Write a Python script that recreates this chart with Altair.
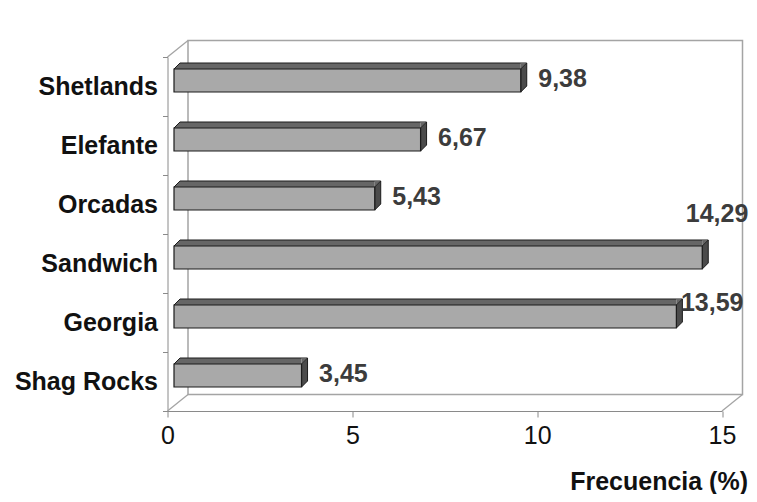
import altair as alt
import pandas as pd

# ---- data ----
categories = ["Shetlands", "Elefante", "Orcadas", "Sandwich", "Georgia", "Shag Rocks"]
values = [9.38, 6.67, 5.43, 14.29, 13.59, 3.45]
x_ticks = [0, 5, 10, 15]
x_title = "Frecuencia (%)"

df = pd.DataFrame({"isla": categories, "frecuencia": values})
df["inicio"] = 0.0
df["etiqueta"] = [f"{v:.2f}".replace(".", ",") for v in values]

# ---- geometry / style ----
W, H = 554.5, 354
DX, DY = 20.5, -16.5          # depth of the 3-D box
FRONT = "#a9a9a9"
TOP = "#666666"
SIDE = "#4b4b4b"
EDGE = "#1c1c1c"
WALL = "#a4a4a4"
AXIS = "#8a8a8a"
FONT = "Liberation Sans"
FS = 25

xs = alt.Scale(domain=[0, 15], nice=False, zero=True)
ys = alt.Scale(domain=categories, paddingInner=0, paddingOuter=0)

x_axis = alt.Axis(values=x_ticks, grid=False, tickSize=6, tickColor=AXIS, domainColor=AXIS,
                  labelFlush=False,
                  labelFont=FONT, labelFontSize=FS, labelColor="#111111", labelPadding=6,
                  titleFont=FONT, titleFontSize=FS, titleFontWeight="bold", titleColor="#111111",
                  titleAnchor="end", titleAlign="right", titleBaseline="alphabetic",
                  titleX=580, titleY=78)
y_axis = alt.Axis(title=None, tickBand="extent", tickSize=5, tickColor=AXIS, domainColor=AXIS,
                  labelFont=FONT, labelFontSize=FS, labelFontWeight="bold", labelColor="#111111",
                  labelPadding=5)

Y = alt.Y("isla:N", scale=ys, sort=categories, axis=y_axis)
X0 = alt.X("inicio:Q", scale=xs, axis=x_axis, title=x_title)
XV = alt.X("frecuencia:Q", scale=xs, axis=x_axis, title=x_title)
X2V = alt.X2("frecuencia:Q")

one = alt.Data(values=[{"k": 0}])

# back wall and floor edges
wall = alt.Chart(one).mark_rect(fill="white", fillOpacity=0, stroke=WALL, strokeWidth=1.5,
                                xOffset=DX, x2Offset=DX, yOffset=DY, y2Offset=DY).encode(
    x=alt.XDatum(0, scale=xs, axis=x_axis, title=x_title), x2=alt.X2Datum(15),
    y=alt.value(0), y2=alt.value(H))

def diag(xv, yv):
    return alt.Chart(one).mark_rule(color=WALL, strokeWidth=1.3, x2Offset=DX, y2Offset=DY).encode(
        x=alt.XDatum(xv, scale=xs, axis=x_axis, title=x_title), x2=alt.X2Datum(xv),
        y=alt.value(yv), y2=alt.value(yv))

base = alt.Chart(df)

# top face (middle strip)
top_strip = base.mark_bar(size=6, yOffset=-20.5, xOffset=12.5, x2Offset=6.5, color=TOP).encode(
    x=X0, x2=X2V, y=Y)
# top face left triangle
top_left = base.mark_point(shape="M6.5,-17.5L12.5,-17.5L12.5,-23.5Z", size=4, filled=True,
                           fill=TOP, strokeWidth=0, opacity=1).encode(x=X0, y=Y)
# top face back edge
back_edge = base.mark_bar(size=1.2, yOffset=-23.5, xOffset=12.5, x2Offset=12.5, color=EDGE).encode(
    x=X0, x2=X2V, y=Y)
# top face left slanted edge
left_edge = base.mark_point(shape="M6.5,-17.5L12.5,-23.5", size=4, filled=False,
                            stroke=EDGE, strokeWidth=1, opacity=1).encode(x=X0, y=Y)
# top face right triangle
top_right = base.mark_point(shape="M6.5,-17.5L6.5,-23.5L12.5,-23.5Z", size=4, filled=True,
                            fill=TOP, strokeWidth=0, opacity=1).encode(x=XV, y=Y)
# side (end) face
side = base.mark_point(shape="M6.5,-17.5L12.5,-23.5L12.5,-0.5L6.5,5.5Z", size=4, filled=True,
                       fill=SIDE, stroke=EDGE, strokeWidth=1, opacity=1).encode(x=XV, y=Y)
# front face
front = base.mark_bar(size=23, yOffset=-6, xOffset=6.5, x2Offset=6.5, fill=FRONT,
                      stroke=EDGE, strokeWidth=1.2).encode(x=X0, x2=X2V, y=Y)

def labels(filt, dx, dy):
    return base.transform_filter(filt).mark_text(
        align="left", baseline="middle", dx=dx, dy=dy, font=FONT, fontSize=FS,
        fontWeight="bold", color="#3c3c3c").encode(x=XV, y=Y, text="etiqueta:N")

lab_main = labels(alt.FieldOneOfPredicate(field="isla",
                  oneOf=["Shetlands", "Elefante", "Orcadas", "Shag Rocks"]), 24, -8)
lab_sand = labels(alt.FieldEqualPredicate(field="isla", equal="Sandwich"), -10, -50)
lab_geo = labels(alt.FieldEqualPredicate(field="isla", equal="Georgia"), 11, -20)

chart = alt.layer(
    wall, diag(0, 0), diag(0, H), diag(15, H),
    top_strip, top_left, back_edge, left_edge, top_right, side, front,
    lab_main, lab_sand, lab_geo,
).properties(
    width=W, height=H,
    padding={"left": 159.5, "top": 49, "right": 27, "bottom": 83},
    autosize=alt.AutoSizeParams(type="none"),
    background="white",
).configure_view(strokeWidth=0)

chart.save("out.html", embed_options={"renderer": "svg", "actions": False})
